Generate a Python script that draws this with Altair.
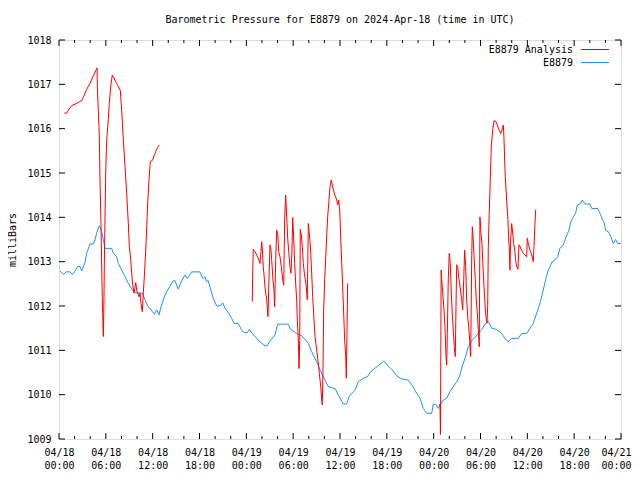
import altair as alt
import pandas as pd

FONT = "DejaVu Sans Mono"

# ---- E8879 (blue) : hours since 2024-04-18 00:00 UTC, pressure (mb)
blue_h = [0.13, 0.55, 0.90, 1.41, 1.70, 1.96, 2.40, 2.69, 2.91, 3.33, 3.55, 3.97, 4.39, 4.61, 4.83,
          5.16, 5.47, 5.68, 5.89, 6.75, 6.96, 7.39, 7.60, 8.03, 8.46, 8.88, 9.39, 9.83, 10.67, 11.02,
          11.44, 11.79, 12.21, 12.52, 12.81, 13.07, 13.49, 13.80, 14.22, 14.64, 14.86, 15.28, 15.72,
          16.14, 16.44, 17.00, 18.06, 18.41, 18.70, 18.92, 19.13, 19.56, 19.77, 20.20, 20.63, 20.97,
          21.27, 21.69, 22.12, 22.42, 22.97, 23.41, 23.70, 24.12, 24.38, 24.81, 25.33, 25.75, 26.39,
          26.65, 26.94, 27.67, 28.02, 29.37, 29.68, 30.45, 31.09, 31.94, 32.37, 33.01, 33.44, 34.08,
          34.50, 35.36, 36.00, 36.42, 36.86, 37.19, 37.92, 38.34, 38.98, 39.50, 39.84, 40.22, 40.87,
          41.63, 42.15, 42.66, 43.30, 43.94, 44.71, 45.22, 45.73, 46.25, 46.67, 47.11, 47.75, 47.95,
          48.30, 48.59, 48.90, 49.23, 49.67, 50.09, 50.51, 50.95, 51.37, 51.59, 52.01, 52.43, 52.87,
          53.29, 53.72, 54.15, 54.57, 55.00, 55.43, 56.07, 56.71, 57.14, 57.56, 57.99, 58.84, 59.27,
          59.92, 60.34, 60.76, 61.20, 61.62, 62.04, 62.39, 62.68, 62.90, 63.20, 63.54, 63.89, 64.18,
          64.60, 64.91, 65.33, 65.59, 65.89, 66.19, 66.40, 66.74, 67.04, 67.38, 68.02, 68.24, 69.01,
          69.31, 69.60, 69.86, 70.04, 70.37, 70.72, 71.01, 71.32, 71.57, 72.00]
blue_p = [1012.79, 1012.71, 1012.77, 1012.77, 1012.71, 1012.77, 1012.89, 1012.89, 1012.79, 1012.98,
          1013.19, 1013.40, 1013.40, 1013.49, 1013.65, 1013.81, 1013.68, 1013.49, 1013.30, 1013.30,
          1013.19, 1013.11, 1012.96, 1012.81, 1012.66, 1012.51, 1012.36, 1012.30, 1012.29, 1012.14,
          1011.98, 1011.91, 1011.82, 1011.91, 1011.80, 1011.98, 1012.20, 1012.32, 1012.45, 1012.57,
          1012.57, 1012.38, 1012.57, 1012.70, 1012.62, 1012.77, 1012.77, 1012.62, 1012.66, 1012.55,
          1012.57, 1012.29, 1012.17, 1012.00, 1012.00, 1012.07, 1011.95, 1011.85, 1011.72, 1011.61,
          1011.60, 1011.46, 1011.40, 1011.40, 1011.47, 1011.37, 1011.27, 1011.19, 1011.10, 1011.10,
          1011.19, 1011.35, 1011.59, 1011.59, 1011.47, 1011.38, 1011.33, 1011.16, 1010.97, 1010.74,
          1010.56, 1010.33, 1010.18, 1010.14, 1009.92, 1009.79, 1009.79, 1009.97, 1010.10, 1010.29,
          1010.37, 1010.40, 1010.50, 1010.56, 1010.65, 1010.76, 1010.65, 1010.56, 1010.42, 1010.35,
          1010.33, 1010.22, 1010.06, 1009.92, 1009.69, 1009.58, 1009.58, 1009.79, 1009.77, 1009.69,
          1009.79, 1009.88, 1009.92, 1010.07, 1010.18, 1010.29, 1010.44, 1010.60, 1010.82, 1011.08,
          1011.22, 1011.29, 1011.38, 1011.47, 1011.59, 1011.65, 1011.50, 1011.47, 1011.38, 1011.27,
          1011.19, 1011.27, 1011.27, 1011.38, 1011.38, 1011.50, 1011.61, 1011.84, 1012.06, 1012.36,
          1012.63, 1012.81, 1012.89, 1013.00, 1013.04, 1013.11, 1013.30, 1013.38, 1013.53, 1013.71,
          1013.90, 1014.01, 1014.09, 1014.28, 1014.30, 1014.39, 1014.30, 1014.30, 1014.20, 1014.20,
          1014.09, 1013.96, 1013.87, 1013.70, 1013.68, 1013.56, 1013.41, 1013.50, 1013.41, 1013.41]

# ---- E8879 Analysis (red), three separate runs
red1_h = [0.68, 0.99, 1.28, 1.63, 2.14, 2.56, 2.91, 3.24, 3.55, 3.97, 4.39, 4.87, 4.93, 5.16, 5.25,
          5.38, 5.47, 5.55, 5.60, 5.68, 5.76, 5.80, 5.89, 5.98, 6.11, 6.32, 6.44, 6.66, 6.83, 6.96,
          7.26, 7.60, 7.85, 8.03, 8.24, 8.46, 8.67, 8.88, 9.01, 9.19, 9.31, 9.44, 9.61, 9.74, 9.83,
          9.95, 10.08, 10.25, 10.38, 10.50, 10.67, 10.80, 10.93, 11.11, 11.24, 11.36, 11.53, 11.70,
          12.00, 12.21, 12.39, 12.64, 12.85]
red1_p = [1016.35, 1016.35, 1016.44, 1016.52, 1016.56, 1016.60, 1016.63, 1016.76, 1016.89, 1017.02,
          1017.19, 1017.37, 1016.87, 1015.86, 1014.86, 1013.86, 1012.85, 1012.21, 1011.83, 1011.31,
          1012.14, 1012.85, 1013.94, 1015.00, 1015.75, 1016.23, 1016.57, 1017.01, 1017.21, 1017.17,
          1017.06, 1016.95, 1016.87, 1016.42, 1015.75, 1015.14, 1014.54, 1013.86, 1013.34, 1013.04,
          1012.74, 1012.47, 1012.29, 1012.44, 1012.53, 1012.36, 1012.29, 1012.21, 1012.29, 1012.06,
          1011.87, 1012.29, 1012.66, 1013.26, 1013.79, 1014.32, 1014.84, 1015.26, 1015.29, 1015.41,
          1015.48, 1015.58, 1015.63]

red2_h = [24.76, 24.81, 24.89, 25.11, 25.33, 25.53, 25.75, 25.84, 25.97, 26.04, 26.17, 26.30, 26.43,
          26.61, 26.77, 26.90, 27.03, 27.16, 27.29, 27.41, 27.54, 27.63, 27.76, 27.89, 28.02, 28.14,
          28.31, 28.48, 28.66, 28.79, 28.91, 29.04, 29.17, 29.30, 29.43, 29.59, 29.72, 29.85, 29.94,
          30.06, 30.19, 30.32, 30.45, 30.53, 30.66, 30.75, 30.84, 30.91, 31.04, 31.17, 31.30, 31.43,
          31.56, 31.68, 31.81, 31.94, 32.07, 32.24, 32.37, 32.50, 32.67, 32.80, 33.01, 33.22, 33.35,
          33.53, 33.66, 33.73, 33.82, 33.91, 34.04, 34.17, 34.29, 34.42, 34.59, 34.72, 34.88, 35.01,
          35.14, 35.36, 35.58, 35.70, 35.83, 35.96, 36.09, 36.22, 36.34, 36.47, 36.60, 36.73, 36.81,
          36.89, 36.98]
red2_p = [1012.10, 1012.70, 1013.28, 1013.23, 1013.15, 1013.08, 1012.96, 1013.17, 1013.45, 1013.30,
          1012.89, 1012.63, 1012.36, 1012.14, 1011.76, 1012.59, 1013.38, 1013.26, 1012.93, 1012.59,
          1012.36, 1011.98, 1013.04, 1013.71, 1013.64, 1013.23, 1013.11, 1012.89, 1012.59, 1012.47,
          1013.98, 1014.50, 1014.01, 1013.53, 1013.23, 1012.89, 1012.74, 1013.26, 1014.00, 1013.56,
          1012.96, 1012.51, 1012.14, 1011.68, 1011.23, 1010.59, 1011.23, 1013.73, 1013.60, 1013.34,
          1012.96, 1012.74, 1012.59, 1012.44, 1012.14, 1013.86, 1013.64, 1013.26, 1012.74, 1012.21,
          1011.68, 1011.31, 1011.01, 1010.71, 1010.48, 1010.18, 1009.88, 1009.77, 1010.56, 1011.91,
          1012.59, 1013.11, 1013.56, 1014.01, 1014.39, 1014.69, 1014.84, 1014.73, 1014.62, 1014.50,
          1014.39, 1014.28, 1014.39, 1014.17, 1013.56, 1012.96, 1012.44, 1011.84, 1011.23, 1010.86,
          1010.37, 1011.38, 1012.51]

red3_h = [48.81, 48.87, 48.96, 49.03, 49.16, 49.32, 49.45, 49.58, 49.67, 49.75, 49.87, 50.00, 50.13,
          50.26, 50.38, 50.51, 50.64, 50.77, 50.86, 50.95, 51.08, 51.20, 51.33, 51.46, 51.59, 51.72,
          51.85, 51.97, 52.10, 52.23, 52.36, 52.49, 52.61, 52.74, 52.87, 52.95, 53.07, 53.20, 53.33,
          53.46, 53.59, 53.72, 53.84, 53.93, 54.06, 54.19, 54.32, 54.45, 54.57, 54.70, 54.83, 54.92,
          55.00, 55.12, 55.25, 55.38, 55.56, 55.73, 55.98, 56.20, 56.41, 56.58, 56.75, 56.92, 57.00,
          57.17, 57.35, 57.52, 57.61, 57.68, 57.77, 57.86, 57.99, 58.12, 58.25, 58.38, 58.50, 58.63,
          58.80, 58.93, 59.06, 59.27, 59.48, 59.70, 59.92, 59.99, 60.12, 60.34, 60.56, 60.76, 60.85,
          60.98, 61.07]
red3_p = [1009.80, 1009.10, 1012.81, 1012.59, 1012.29, 1011.91, 1011.53, 1010.86, 1010.67, 1011.38,
          1012.59, 1013.19, 1012.96, 1012.29, 1011.84, 1011.46, 1011.08, 1010.86, 1011.98, 1012.93,
          1012.89, 1012.66, 1012.51, 1012.32, 1012.14, 1011.91, 1012.59, 1013.26, 1012.89, 1012.14,
          1011.76, 1011.53, 1011.23, 1010.86, 1013.04, 1013.79, 1013.49, 1013.04, 1012.59, 1012.14,
          1011.84, 1011.46, 1011.08, 1014.01, 1013.64, 1013.41, 1012.89, 1012.44, 1012.06, 1011.76,
          1011.61, 1011.98, 1013.34, 1014.09, 1014.84, 1015.59, 1015.97, 1016.18, 1016.16, 1016.06,
          1015.96, 1015.89, 1015.97, 1016.08, 1015.82, 1014.92, 1014.39, 1013.94, 1013.49, 1013.34,
          1012.81, 1013.49, 1013.86, 1013.64, 1013.41, 1013.26, 1013.04, 1012.89, 1012.83, 1013.38,
          1013.34, 1013.26, 1013.19, 1013.15, 1013.11, 1013.53, 1013.41, 1013.26, 1013.15, 1013.00,
          1013.34, 1013.86, 1014.17]

x_major = list(range(0, 73, 6))
x_minor = [h for h in range(0, 73, 2) if h % 6 != 0]
y_ticks = list(range(1009, 1019))

series_names = ["E8879 Analysis", "E8879"]
RED = "#ff0000"
BLUE = "#1e90ff"

W, H = 562, 399

blue = pd.DataFrame({"h": blue_h, "p": blue_p})
red = pd.concat([
    pd.DataFrame({"h": hh, "p": pp, "seg": i})
    for i, (hh, pp) in enumerate([(red1_h, red1_p), (red2_h, red2_p), (red3_h, red3_p)])
])

xs = alt.Scale(domain=[0, 72], nice=False, zero=False)
ys = alt.Scale(domain=[1009, 1018], nice=False, zero=False)

x_axis = alt.Axis(
    values=x_major,
    labelExpr="['04/' + (18 + floor(datum.value / 24)), (datum.value % 24 < 10 ? '0' : '') + (datum.value % 24) + ':00']",
    ticks=False, domain=False, grid=False, title=None,
    labelFont=FONT, labelFontSize=10, labelColor="black",
    labelPadding=8, labelLineHeight=13, labelFlush=False, labelOverlap=False,
    labelOffset={"condition": {"test": "datum.value >= 72", "value": -5}, "value": 0},
)
y_axis = alt.Axis(
    values=y_ticks, format="d", ticks=False, domain=False, grid=False,
    title="milliBars", titleFont=FONT, titleFontSize=10, titleFontWeight="normal",
    titleColor="black", titlePadding=9,
    labelFont=FONT, labelFontSize=10, labelColor="black", labelPadding=8,
    labelFlush=False, labelOverlap=False,
)

blue_line = alt.Chart(blue).mark_line(color=BLUE, strokeWidth=1).encode(
    x=alt.X("h:Q", scale=xs, axis=x_axis),
    y=alt.Y("p:Q", scale=ys, axis=y_axis),
)
red_line = alt.Chart(red).mark_line(color=RED, strokeWidth=1).encode(
    x=alt.X("h:Q", scale=xs),
    y=alt.Y("p:Q", scale=ys),
    detail="seg:N",
)

xmaj = pd.DataFrame({"h": x_major})
xmin = pd.DataFrame({"h": x_minor})
ytk = pd.DataFrame({"p": y_ticks})

def xtick(df, y0, y1):
    return alt.Chart(df).mark_rule(color="black", strokeWidth=1).encode(
        x=alt.X("h:Q", scale=xs), y=alt.value(y0), y2=alt.value(y1))

def ytick(x0, x1):
    return alt.Chart(ytk).mark_rule(color="black", strokeWidth=1).encode(
        y=alt.Y("p:Q", scale=ys), x=alt.value(x0), x2=alt.value(x1))

ticks = [
    xtick(xmaj, H, H - 6), xtick(xmaj, 0, 6),
    xtick(xmin, H, H - 3), xtick(xmin, 0, 3),
    ytick(0, 6), ytick(W, W - 6),
]

legend = []
for i, (name, col) in enumerate(zip(series_names, [RED, BLUE])):
    ly = 9.5 + 13 * i
    df = pd.DataFrame({"t": [name]})
    legend.append(alt.Chart(df).mark_text(align="right", baseline="middle", font=FONT,
                                          fontSize=10, color="black").encode(
        text="t:N", x=alt.value(514), y=alt.value(ly)))
    legend.append(alt.Chart(df).mark_rule(color=col, strokeWidth=1).encode(
        x=alt.value(522), x2=alt.value(550), y=alt.value(ly)))

chart = alt.layer(blue_line, red_line, *ticks, *legend).properties(
    width=W, height=H,
    title=alt.TitleParams("Barometric Pressure for E8879 on 2024-Apr-18 (time in UTC)",
                          font=FONT, fontSize=10, fontWeight="normal", anchor="middle",
                          color="black", offset=10),
    autosize=alt.AutoSizeParams(type="none"),
    padding={"left": 51, "top": 32, "right": 11, "bottom": 32},
).configure_view(stroke="black", strokeWidth=1).configure(background="white")

chart.save("out.html", embed_options={"renderer": "svg", "actions": False})
